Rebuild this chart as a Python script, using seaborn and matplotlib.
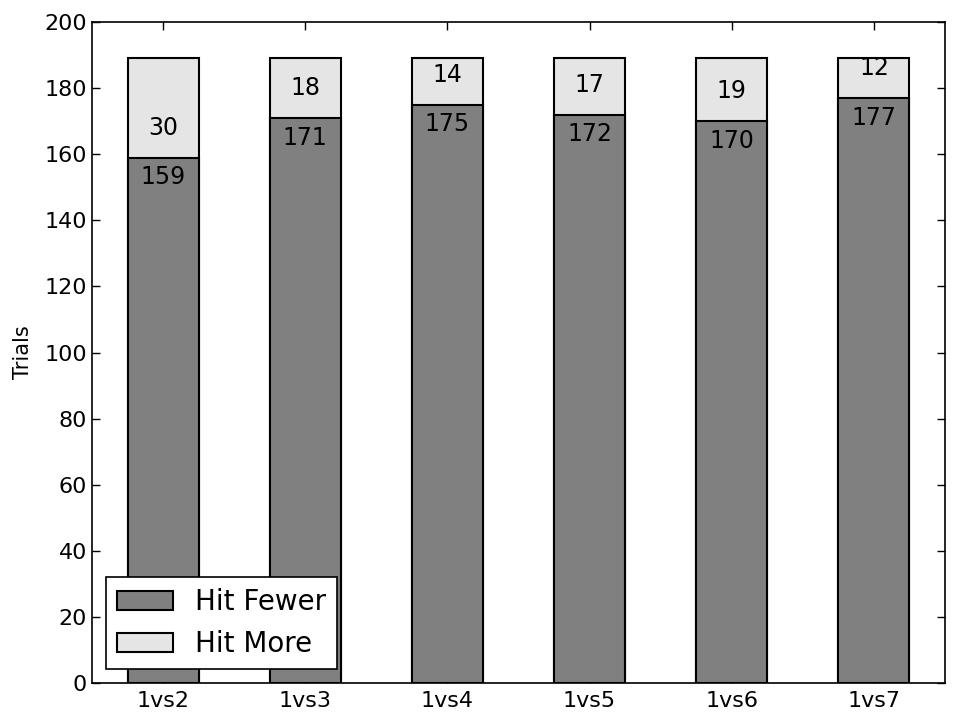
import matplotlib
matplotlib.use("Agg")
import matplotlib.pyplot as plt
import pandas as pd
import seaborn as sns

matchups = ['1vs2', '1vs3', '1vs4', '1vs5', '1vs6', '1vs7']
hit_fewer = [159, 171, 175, 172, 170, 177]
hit_more = [30, 18, 14, 17, 19, 12]

df = pd.DataFrame({'matchup': matchups, 'fewer': hit_fewer, 'more': hit_more})
df['total'] = df['fewer'] + df['more']

sns.set_style('ticks')
plt.rcParams['font.family'] = ['DejaVu Sans']
plt.rcParams['text.color'] = 'black'
plt.rcParams['axes.labelcolor'] = 'black'
plt.rcParams['xtick.color'] = 'black'
plt.rcParams['ytick.color'] = 'black'

fig = plt.figure(figsize=(9.57, 7.17), dpi=100)
ax = fig.add_axes([0.0961, 0.0474, 0.8914, 0.9219])

# totals first (light), then the lower part on top of it
sns.barplot(data=df, x='matchup', y='total', color='#e5e5e5', saturation=1,
            width=0.5, edgecolor='black', linewidth=1.5, label='Hit More', ax=ax)
sns.barplot(data=df, x='matchup', y='fewer', color='#808080', saturation=1,
            width=0.5, edgecolor='black', linewidth=1.5, label='Hit Fewer', ax=ax)

for i, row in df.iterrows():
    ax.text(i, row['fewer'] - 6, str(row['fewer']), ha='center', va='center',
            fontsize=17, color='black')
    ax.text(i, row['fewer'] + 9, str(row['more']), ha='center', va='center',
            fontsize=17, color='black')

ax.set_xlim(-0.5, 5.5)
ax.set_ylim(0, 200)
ax.set_yticks(range(0, 201, 20))
ax.set_xlabel('')
ax.set_ylabel('Trials', fontsize=15, labelpad=8)
ax.tick_params(direction='in', top=True, right=True, labelsize=16, length=6, width=1)
ax.tick_params(axis='x', pad=6)
for s in ax.spines.values():
    s.set_visible(True)
    s.set_color('black')
    s.set_linewidth(1.2)

h, l = ax.get_legend_handles_labels()
order = [l.index('Hit Fewer'), l.index('Hit More')]
leg = ax.legend([h[k] for k in order], [l[k] for k in order], loc='lower left',
                fontsize=20, fancybox=False, framealpha=1, edgecolor='black')
leg.get_frame().set_linewidth(1.2)
for t in leg.get_texts():
    t.set_color('black')

fig.savefig('out.png', dpi=100)
